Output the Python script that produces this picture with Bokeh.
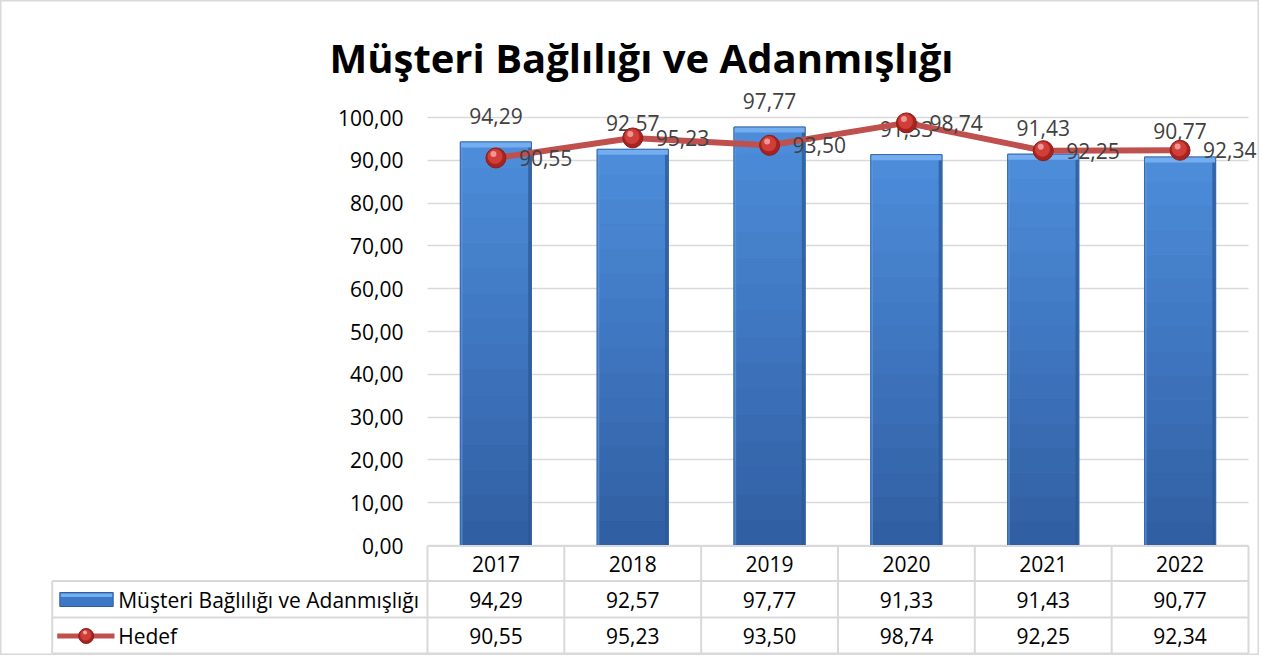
from bokeh.plotting import figure
from bokeh.models import Range1d, FixedTicker, LinearAxis, Grid, CustomJSTickFormatter
from bokeh.embed import file_html
from bokeh.resources import INLINE
from bokeh.core.properties import value

# ---------------- data ----------------
years = ["2017", "2018", "2019", "2020", "2021", "2022"]
bagliligi = [94.29, 92.57, 97.77, 91.33, 91.43, 90.77]
hedef = [90.55, 95.23, 93.50, 98.74, 92.25, 92.34]
y_ticks = [0, 10, 20, 30, 40, 50, 60, 70, 80, 90, 100]
series_names = ["Müşteri Bağlılığı ve Adanmışlığı", "Hedef"]
title_text = "Müşteri Bağlılığı ve Adanmışlığı"


def fmt(v):
    return f"{v:.2f}".replace(".", ",")


FONT = "Open Sans"
n = len(years)
xs = [i + 0.5 for i in range(n)]

# ---------------- canvas geometry (pixels) ----------------
W, H = 1259, 655
X0, XW = 427.0, 136.83     # left edge of plot area, width of one category column
Y0, YK = 545.0, 4.28       # pixel row of value 0, pixels per value unit


def xpx(px):
    return (px - X0) / XW


def ypx(py):
    return (Y0 - py) / YK


p = figure(width=W, height=H,
           x_range=Range1d(xpx(0), xpx(W)), y_range=Range1d(ypx(H), ypx(0)),
           output_backend="svg", toolbar_location=None,
           x_axis_location=None, y_axis_location=None,
           min_border_left=0, min_border_right=0, min_border_top=0, min_border_bottom=0,
           outline_line_color="#d9d9d9", outline_line_width=2)
p.background_fill_color = "white"
p.border_fill_color = "white"
for g in p.grid:
    g.visible = False

# ---------------- value axis + grid ----------------
ticker = FixedTicker(ticks=y_ticks)
yaxis = LinearAxis(ticker=ticker, fixed_location=0,
                   formatter=CustomJSTickFormatter(code="return tick.toFixed(2).replace('.', ',');"))
yaxis.axis_line_color = None
yaxis.major_tick_line_color = None
yaxis.minor_tick_line_color = None
yaxis.major_tick_out = 0
yaxis.major_tick_in = 0
yaxis.major_label_standoff = 24
yaxis.major_label_text_font = FONT
yaxis.major_label_text_font_size = "21px"
yaxis.major_label_text_color = "#000000"
p.add_layout(yaxis, "left")

if "cross_bounds" in Grid.properties():
    p.add_layout(Grid(dimension=1, ticker=ticker, cross_bounds=(0, n),
                      grid_line_color="#d9d9d9", grid_line_width=1.5), "center")
else:
    p.segment(x0=[0] * len(y_ticks), y0=y_ticks, x1=[n] * len(y_ticks), y1=y_ticks,
              line_color="#d9d9d9", line_width=1.5)

# ---------------- title ----------------
p.text(x=[xpx(641)], y=[ypx(57)], text=[title_text], text_align="center",
       text_baseline="middle", text_font=value(FONT), text_font_size="40px",
       text_font_style="bold", text_color="#000000")


# ---------------- bars ----------------
def mix(c0, c1, t):
    return "#%02x%02x%02x" % tuple(int(round(a + (b - a) * t)) for a, b in zip(c0, c1))


bar_w = 0.52
top_c = (0x4d, 0x8d, 0xdb)
bot_c = (0x30, 0x5e, 0xa2)
N = 16
for k in range(N):
    f0, f1 = k / N, (k + 1) / N
    c = mix(bot_c, top_c, (k + 0.5) / N)
    p.vbar(x=xs, bottom=[v * f0 for v in bagliligi], top=[v * f1 for v in bagliligi],
           width=bar_w, fill_color=c, line_color=c, line_width=1)
p.vbar(x=[x + bar_w / 2 - 0.012 for x in xs], bottom=0, top=bagliligi, width=0.024,
       fill_color="#2b5894", fill_alpha=0.75, line_color=None)
p.vbar(x=[x - bar_w / 2 + 0.008 for x in xs], bottom=0, top=bagliligi, width=0.016,
       fill_color="#5e9be0", fill_alpha=0.6, line_color=None)
p.vbar(x=xs, bottom=[v - 1.3 for v in bagliligi], top=bagliligi, width=bar_w,
       fill_color="#74aef0", line_color=None)
p.vbar(x=xs, bottom=0, top=bagliligi, width=bar_w, fill_color=None,
       line_color="#3a68a8", line_width=1)

p.text(x=xs, y=bagliligi, text=[fmt(v) for v in bagliligi], text_align="center",
       text_baseline="middle", y_offset=-26, text_font=value(FONT),
       text_font_size="21px", text_color="#404040")

# ---------------- target line ----------------
p.line(xs, hedef, line_color="#c0504d", line_width=6)
p.scatter(xs, hedef, size=20, fill_color="#a8231f", line_color="#8a1f1c", line_width=1)
p.scatter([x - 0.006 for x in xs], [v + 0.35 for v in hedef], size=15,
          fill_color="#cf3e38", line_color=None)
p.scatter([x - 0.018 for x in xs], [v + 0.9 for v in hedef], size=6,
          fill_color="#f3a7a2", fill_alpha=0.85, line_color=None)

p.text(x=xs, y=hedef, text=[fmt(v) for v in hedef], text_align="left",
       text_baseline="middle", x_offset=23, text_font=value(FONT),
       text_font_size="21px", text_color="#404040")

# ---------------- data table ----------------
grid_c = "#d9d9d9"
left_x = xpx(51.7)
y_top, y_r1, y_r2, y_bot = ypx(545.5), ypx(580.5), ypx(617), ypx(653)
p.segment(x0=[0], y0=[y_top], x1=[n], y1=[y_top], line_color=grid_c, line_width=2)
p.segment(x0=[left_x] * 3, y0=[y_r1, y_r2, y_bot], x1=[n] * 3, y1=[y_r1, y_r2, y_bot],
          line_color=grid_c, line_width=2)
p.segment(x0=list(range(n + 1)), y0=[y_bot] * (n + 1), x1=list(range(n + 1)),
          y1=[y_top] * (n + 1), line_color=grid_c, line_width=2)
p.segment(x0=[left_x], y0=[y_bot], x1=[left_x], y1=[y_r1], line_color=grid_c, line_width=2)

row_head, row1, row2 = ypx(563), ypx(599), ypx(635.5)
tbl = dict(text_baseline="middle", text_font=value(FONT), text_font_size="21px",
           text_color="#000000")
p.text(x=xs, y=[row_head] * n, text=years, text_align="center", **tbl)
p.text(x=xs, y=[row1] * n, text=[fmt(v) for v in bagliligi], text_align="center", **tbl)
p.text(x=xs, y=[row2] * n, text=[fmt(v) for v in hedef], text_align="center", **tbl)
p.text(x=[xpx(117.7)] * 2, y=[row1, row2], text=series_names, text_align="left", **tbl)

# legend keys inside the table
p.quad(left=[xpx(59.3)], right=[xpx(112.7)], bottom=[ypx(606)], top=[ypx(592)],
       fill_color="#3b78c6", line_color="#2f5f9f", line_width=1)
p.quad(left=[xpx(60.3)], right=[xpx(111.7)], bottom=[ypx(596.5)], top=[ypx(593)],
       fill_color="#74aef0", line_color=None)
p.segment(x0=[xpx(56.7)], y0=[row2], x1=[xpx(114)], y1=[row2], line_color="#c0504d",
          line_width=5)
p.scatter([xpx(85.7)], [row2], size=15, fill_color="#a8231f", line_color="#8a1f1c")
p.scatter([xpx(85.2)], [ypx(634.5)], size=11, fill_color="#cf3e38", line_color=None)
p.scatter([xpx(84.5)], [ypx(632)], size=4, fill_color="#f3a7a2", line_color=None)

open("out.html", "w").write(file_html(p, INLINE))
